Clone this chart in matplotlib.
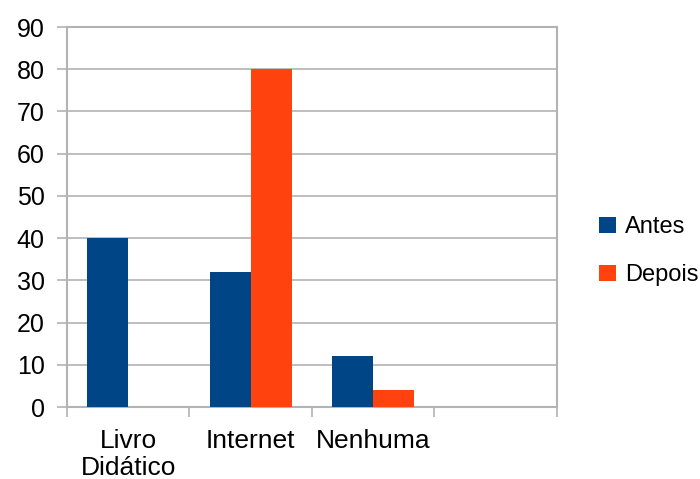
import matplotlib.pyplot as plt
import numpy as np

plt.rcParams['font.family'] = ['Liberation Sans', 'DejaVu Sans']

categorias = ["Livro\nDidático", "Internet", "Nenhuma", ""]
antes = [40, 32, 12, 0]
depois = [0, 80, 4, 0]

cor_antes = '#004586'
cor_depois = '#ff420e'
grid_cor = '#b3b3b3'

fig = plt.figure(figsize=(7, 4.79), dpi=100)
ax = fig.add_axes([0.0957, 0.1503, 0.70, 0.7933])

x = np.arange(len(categorias))
w = 1 / 3
ax.bar(x - w / 2, antes, w, color=cor_antes, label="Antes", zorder=3)
ax.bar(x + w / 2, depois, w, color=cor_depois, label="Depois", zorder=3)

ax.set_xlim(-0.5, len(categorias) - 0.5)
ax.set_ylim(0, 90)
ax.set_yticks(np.arange(0, 91, 10))
ax.tick_params(axis='y', labelsize=18, length=7, width=1.2, color=grid_cor, pad=9)
ax.yaxis.grid(True, color=grid_cor, linewidth=1.2, zorder=0)

ax.set_xticks(x)
ax.set_xticklabels(categorias, fontsize=19, linespacing=1.15)
ax.tick_params(axis='x', which='major', length=0, pad=16)
ax.set_xticks(np.arange(-0.5, len(categorias), 1), minor=True)
ax.tick_params(axis='x', which='minor', length=7, width=1.2, color=grid_cor)

for s in ax.spines.values():
    s.set_color(grid_cor)
    s.set_linewidth(1.5)

leg = fig.legend(loc='center left', bbox_to_anchor=(0.856, 0.475), frameon=False,
                 fontsize=17, handlelength=0.7, handleheight=0.7, handletextpad=0.4,
                 labelspacing=1.1, borderaxespad=0, borderpad=0)

plt.savefig("out.png", dpi=100)
